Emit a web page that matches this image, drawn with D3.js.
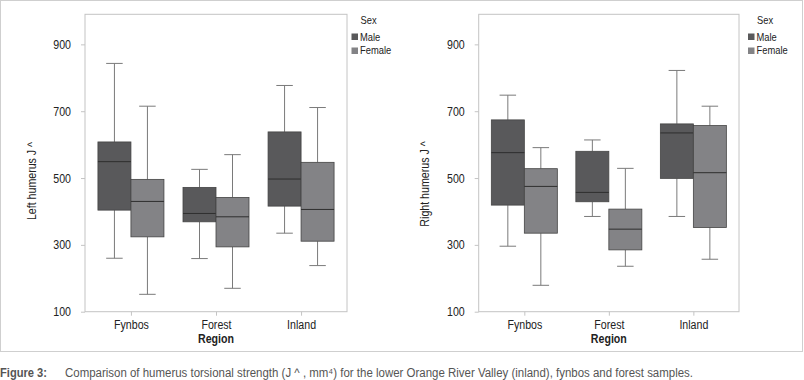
<!DOCTYPE html>
<html>
<head>
<meta charset="utf-8">
<script src="https://cdn.jsdelivr.net/npm/d3@7"></script>
<style>
  body { margin: 0; background: #fff; }
  svg { display: block; font-family: "Liberation Sans", Arial, sans-serif; }
</style>
</head>
<body>
<svg id="chart" width="804" height="380"></svg>
<script>
// values: [min, q1, median, q3, max]
const regions = ['Fynbos', 'Forest', 'Inland'];
const sexes = ['Male', 'Female'];
const yTicks = [100, 300, 500, 700, 900];

const leftMale = [
  [260, 404, 549, 608, 843],
  [259, 369, 394, 472, 526],
  [335, 416, 497, 638, 777]
];
const leftFemale = [
  [152, 324, 430, 496, 715],
  [170, 294, 384, 442, 570],
  [238, 311, 406, 547, 711]
];
const rightMale = [
  [296, 419, 576, 674, 748],
  [385, 429, 457, 580, 614],
  [385, 499, 635, 662, 822]
];
const rightFemale = [
  [179, 335, 475, 528, 591],
  [236, 285, 347, 407, 529],
  [257, 352, 516, 657, 715]
];

const COLORS = { Male: '#59595b', Female: '#838386' };
const TOP = 14.3, BOTTOM = 311.7;
const SQUEEZE = 0.85; // the source uses a condensed face

const svg = d3.select('#chart');

// light frame round the whole figure
svg.append('rect')
  .attr('x', 0.5).attr('y', 0.5)
  .attr('width', 802).attr('height', 351)
  .attr('fill', 'none')
  .attr('stroke', '#cfcfcf');

function drawPanel(opts) {
  const { x0, x1, title, male, female, titleX, titleY, legendX } = opts;
  const g = svg.append('g');

  const x = d3.scalePoint().domain(regions).range([x0, x1]).padding(0.54);
  const xSex = d3.scaleBand().domain(sexes).range([-33, 33]);
  const y = d3.scaleLinear().domain([100, 990]).range([BOTTOM, TOP]);

  // plot frame
  g.append('rect')
    .attr('x', x0).attr('y', TOP)
    .attr('width', x1 - x0).attr('height', BOTTOM - TOP)
    .attr('fill', 'none')
    .attr('stroke', '#c4c4c4');

  const yAxis = g.append('g')
    .attr('transform', `translate(${x0},0)`)
    .call(d3.axisLeft(y).tickValues(yTicks).tickSize(4).tickPadding(10));
  yAxis.select('.domain').remove();
  yAxis.selectAll('line').attr('stroke', '#c4c4c4');
  yAxis.selectAll('text').attr('font-size', 12.5).attr('fill', '#222')
    .attr('font-family', 'inherit');

  const xAxis = g.append('g')
    .attr('transform', `translate(0,${BOTTOM})`)
    .call(d3.axisBottom(x).tickSize(4).tickPadding(4));
  xAxis.select('.domain').remove();
  xAxis.selectAll('line').attr('stroke', '#c4c4c4');
  xAxis.selectAll('text').attr('font-size', 12.5).attr('fill', '#222')
    .attr('font-family', 'inherit');

  const rows = [];
  regions.forEach((r, i) => {
    rows.push({ region: r, sex: 'Male', v: male[i] });
    rows.push({ region: r, sex: 'Female', v: female[i] });
  });

  rows.forEach(d => {
    const left = x(d.region) + xSex(d.sex);
    const bw = xSex.bandwidth();
    const cx = left + bw / 2;
    const [mn, q1, med, q3, mx] = d.v;
    const bg = g.append('g');

    bg.append('line')
      .attr('x1', cx).attr('x2', cx)
      .attr('y1', y(mx)).attr('y2', y(q3))
      .attr('stroke', '#7a7a7a');
    bg.append('line')
      .attr('x1', cx).attr('x2', cx)
      .attr('y1', y(q1)).attr('y2', y(mn))
      .attr('stroke', '#7a7a7a');
    [mn, mx].forEach(v => {
      bg.append('line')
        .attr('x1', cx - bw / 4).attr('x2', cx + bw / 4)
        .attr('y1', y(v)).attr('y2', y(v))
        .attr('stroke', '#7a7a7a');
    });
    bg.append('rect')
      .attr('x', left).attr('width', bw)
      .attr('y', y(q3)).attr('height', y(q1) - y(q3))
      .attr('fill', COLORS[d.sex])
      .attr('stroke', '#444')
      .attr('stroke-width', 0.8);
    bg.append('line')
      .attr('x1', left).attr('x2', left + bw)
      .attr('y1', y(med)).attr('y2', y(med))
      .attr('stroke', '#2e2e2e')
      .attr('stroke-width', 1);
  });

  // axis titles
  g.append('text')
    .attr('transform', `translate(${titleX},${titleY}) rotate(-90)`)
    .attr('text-anchor', 'middle')
    .attr('dy', '0.35em')
    .attr('font-size', 12.5)
    .attr('fill', '#222')
    .text(title);
  g.append('text')
    .attr('x', (x0 + x1) / 2)
    .attr('y', 343)
    .attr('text-anchor', 'middle')
    .attr('font-size', 12.5)
    .attr('font-weight', 'bold')
    .attr('fill', '#222')
    .text('Region');

  // legend
  const lg = g.append('g').attr('transform', `translate(${legendX},0)`);
  lg.append('text')
    .attr('x', 9).attr('y', 24)
    .attr('font-size', 11)
    .attr('fill', '#222')
    .text('Sex');
  sexes.forEach((s, i) => {
    lg.append('rect')
      .attr('x', 0).attr('y', 33.5 + i * 14)
      .attr('width', 6.5).attr('height', 6.5)
      .attr('fill', COLORS[s]);
    lg.append('text')
      .attr('x', 8.5).attr('y', 41 + i * 12.5)
      .attr('font-size', 11)
      .attr('fill', '#222')
      .text(s);
  });
}

drawPanel({ x0: 85, x1: 347, title: 'Left humerus J ^', male: leftMale, female: leftFemale,
  titleX: 31.5, titleY: 181, legendX: 351.5 });
drawPanel({ x0: 478.7, x1: 739, title: 'Right humerus J ^', male: rightMale, female: rightFemale,
  titleX: 425, titleY: 184, legendX: 748 });

// narrow every chart text to mimic the condensed face
svg.selectAll('text').each(function () {
  const len = this.getComputedTextLength();
  d3.select(this)
    .attr('textLength', len * SQUEEZE)
    .attr('lengthAdjust', 'spacingAndGlyphs');
});

// caption
const cap = svg.append('g').attr('fill', '#555').attr('font-size', 12);
cap.append('text')
  .attr('x', 0).attr('y', 377)
  .attr('font-weight', 'bold')
  .attr('textLength', 47)
  .attr('lengthAdjust', 'spacingAndGlyphs')
  .text('Figure 3:');
cap.append('text')
  .attr('x', 65).attr('y', 377)
  .attr('textLength', 628)
  .attr('lengthAdjust', 'spacingAndGlyphs')
  .text('Comparison of humerus torsional strength (J ^ , mm\u2074) for the lower Orange River Valley (inland), fynbos and forest samples.');
</script>
</body>
</html>
